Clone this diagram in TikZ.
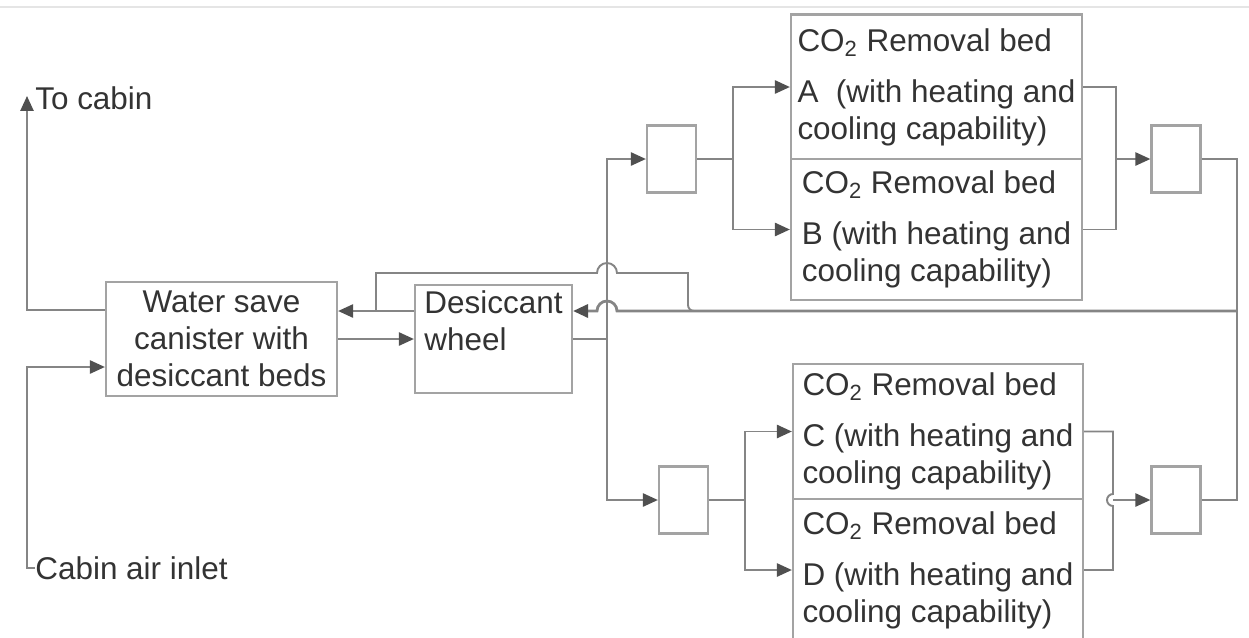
\documentclass[tikz,border=0pt]{standalone}
\usepackage{fontspec}
\setmainfont{Liberation Sans}
\usetikzlibrary{calc,arrows.meta}
\definecolor{wiregray}{HTML}{858585}
\definecolor{framegray}{HTML}{A3A3A3}
\definecolor{tipgray}{HTML}{505050}
\definecolor{ink}{HTML}{333333}

\begin{document}
\begin{tikzpicture}[x=0.02cm,y=-0.02cm,
  >={Triangle[length=8.5pt,width=7.5pt,color=tipgray]},
  wire/.style={draw=wiregray,line width=1.1pt},
  unit/.style={draw=framegray,line width=1.3pt,fill=white,text=ink,inner sep=3pt,
    font=\fontsize{17.9pt}{21pt}\selectfont},
  bed/.style={unit,align=left},
  valve/.style={draw=framegray,line width=1.3pt,fill=white,minimum width=0.98cm,minimum height=1.34cm},
  lbl/.style={text=ink,anchor=west,inner sep=0pt,font=\fontsize{17.9pt}{21pt}\selectfont}]
  \useasboundingbox (0,0) rectangle (1249,637);
  \draw[gray!20,line width=1pt] (0,7) -- (1249,7);
  % units
  \node[unit,align=center,minimum width=4.62cm,minimum height=2.28cm] (water) at (221.5,339) {Water save\\canister with\\desiccant beds};
  \node[unit,align=left,minimum width=3.14cm,minimum height=2.16cm] (wheel) at (493.5,339) {Desiccant\\wheel\\\mbox{}};
  \node[valve] (vin1) at (671.5,159) {};
  \node[valve] (vout1) at (1176,159) {};
  \node[valve] (vin2) at (683.5,500) {};
  \node[valve] (vout2) at (1176,500) {};
  \node[bed,minimum width=5.82cm,minimum height=2.9cm] (bedA) at (936.5,87) {CO\textsubscript{2} Removal bed\\[8pt]A~ (with heating and\\cooling capability)};
  \node[bed,minimum width=5.82cm,minimum height=2.82cm] (bedB) at (936.5,229.5) {CO\textsubscript{2} Removal bed\\[8pt]B (with heating and\\cooling capability)};
  \node[bed,minimum width=5.8cm,minimum height=2.7cm] (bedC) at (938,431.5) {CO\textsubscript{2} Removal bed\\[8pt]C (with heating and\\cooling capability)};
  \node[bed,minimum width=5.8cm,minimum height=2.84cm] (bedD) at (938,570) {CO\textsubscript{2} Removal bed\\[8pt]D (with heating and\\cooling capability)};
  % cabin side
  \coordinate (outlet) at (27,96);
  \coordinate (inlet) at (27,568);
  \node[lbl] (tocabin) at (35,98) {To cabin};
  \node[lbl] (cabinair) at (35,568) {Cabin air inlet};
  \draw[wire,->] ($(water.west)+(0,-29)$) -| (outlet);
  \draw[wire,->] (cabinair.west) -- (inlet) |- ($(water.west)+(0,28)$);
  \draw[wire,->] (water.east) -- (wheel.west);
  \draw[wire,->] ($(wheel.west)+(0,-28)$) -- ($(water.east)+(0,-28)$);
  % bypass over the wheel
  \coordinate (bypass) at (376,311);
  \draw[wire] (bypass) |- (597,273) arc[start angle=180,end angle=360,radius=10] -- (688,273) -- (688,305) arc[start angle=180,end angle=90,radius=6];
  % split to the two bed pairs
  \coordinate (split) at (607,339);
  \draw[wire] (wheel.east) -- (split);
  \draw[wire,->] (split) |- (vin1.west);
  \draw[wire,->] (split) |- (vin2.west);
  \coordinate (forkA) at (733,159);
  \draw[wire] (vin1.east) -- (forkA);
  \draw[wire,->] (forkA) |- (bedA.west);
  \draw[wire,->] (forkA) |- (bedB.west);
  \coordinate (joinA) at (1116,159);
  \draw[wire] (bedA.east) -| (joinA) |- (bedB.east);
  \draw[wire,->] (joinA) -- (vout1.west);
  \coordinate (forkC) at (745,500);
  \draw[wire] (vin2.east) -- (forkC);
  \draw[wire,->] (forkC) |- (bedC.west);
  \draw[wire,->] (forkC) |- (bedD.west);
  \coordinate (joinC) at (1113,500);
  \draw[wire] (bedC.east) -| (1113,494) arc[start angle=270,end angle=90,radius=6] |- (bedD.east);
  \draw[wire,->] (joinC) -- (vout2.west);
  % return loop to the wheel
  \coordinate (loop) at (1237,311);
  \draw[wire] (vout1.east) -| (loop) |- (vout2.east);
  \draw[wire,line width=1.6pt,->] (loop) -- (617,311) arc[start angle=0,end angle=-180,radius=10] -- ($(wheel.east)+(0,-28)$);
\end{tikzpicture}
\end{document}
